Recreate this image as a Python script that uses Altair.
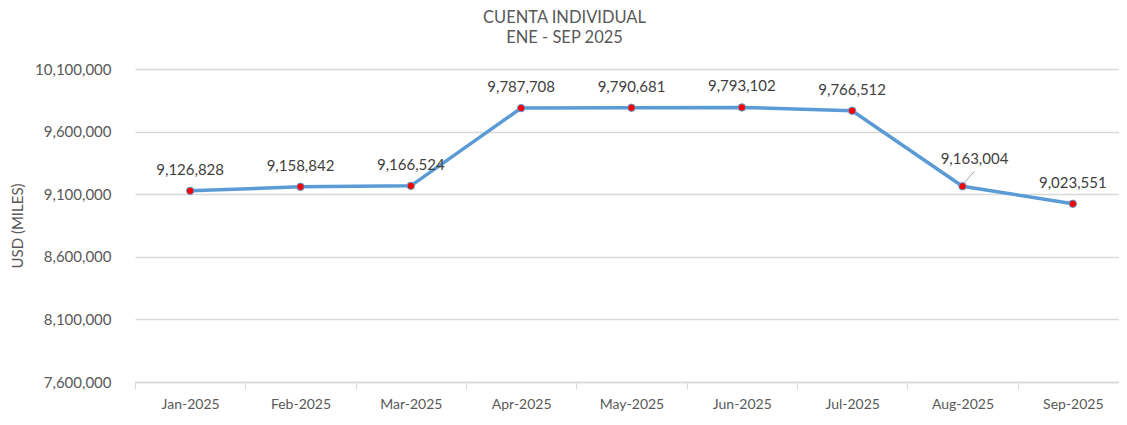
import altair as alt
import pandas as pd

months = ["Jan-2025", "Feb-2025", "Mar-2025", "Apr-2025", "May-2025",
          "Jun-2025", "Jul-2025", "Aug-2025", "Sep-2025"]
values = [9126828, 9158842, 9166524, 9787708, 9790681,
          9793102, 9766512, 9163004, 9023551]
y_ticks = [7600000, 8100000, 8600000, 9100000, 9600000, 10100000]

df = pd.DataFrame({"month": months, "value": values})

FONT = "Lato"
GRAY = "#595959"
BLUE = "#5B9BD5"

x_enc = alt.X("month:N", sort=months, title=None,
              scale=alt.Scale(type="band", paddingInner=0, paddingOuter=0),
              axis=alt.Axis(labelAngle=0, tickBand="extent", labelFont=FONT,
                            labelFontSize=14, labelColor=GRAY, labelPadding=8,
                            domainColor="#d9d9d9", tickColor="#d9d9d9",
                            tickSize=7, domainWidth=1.5, grid=False))
y_enc = alt.Y("value:Q", title="USD (MILES)",
              scale=alt.Scale(domain=[7600000, 10100000], nice=False, zero=False),
              axis=alt.Axis(values=y_ticks, format=",.0f", labelFont=FONT,
                            labelFontSize=15, labelColor=GRAY, labelPadding=24,
                            tickSize=0, domain=False, gridColor="#d9d9d9",
                            gridWidth=1.5, titleFont=FONT, titleFontSize=15,
                            titleColor=GRAY, titleFontWeight="normal",
                            titlePadding=9))

base = alt.Chart(df)

line = base.mark_line(color=BLUE, strokeWidth=3.5).encode(x=x_enc, y=y_enc)
pts = base.mark_point(filled=True, fill="#FF0000", stroke=BLUE, strokeWidth=1,
                      size=55, opacity=1).encode(x=x_enc, y=y_enc)

lab_df = df[df["month"] != "Aug-2025"]
labels = alt.Chart(lab_df).mark_text(dy=-21, font=FONT, fontSize=15,
                                     color="#404040").encode(
    x=alt.X("month:N", sort=months), y="value:Q",
    text=alt.Text("value:Q", format=",.0f"))

aug_df = df[df["month"] == "Aug-2025"]
aug_label = alt.Chart(aug_df).mark_text(dx=12, dy=-27, font=FONT, fontSize=15,
                                        color="#404040").encode(
    x=alt.X("month:N", sort=months), y="value:Q",
    text=alt.Text("value:Q", format=",.0f"))
leader = alt.Chart(aug_df).mark_rule(color="#a6a6a6", strokeWidth=1,
                                     xOffset=2, yOffset=-4,
                                     x2Offset=12, y2Offset=-15).encode(
    x=alt.X("month:N", sort=months, bandPosition=0.5), y="value:Q",
    x2=alt.X2("month:N", bandPosition=0.5), y2="value:Q")

chart = alt.layer(line, leader, pts, labels, aug_label).properties(
    width=993, height=313,
    autosize=alt.AutoSizeParams(type="none"),
    padding={"left": 127, "top": 61, "right": -9, "bottom": 31},
    title=alt.TitleParams(["CUENTA INDIVIDUAL", "ENE - SEP 2025"], anchor="middle",
                          dx=-67, offset=16, font=FONT, fontSize=16.5,
                          fontWeight="normal", color=GRAY, lineHeight=20),
).configure_view(stroke=None)

chart.save("out.html", embed_options={"renderer": "svg", "actions": False})
